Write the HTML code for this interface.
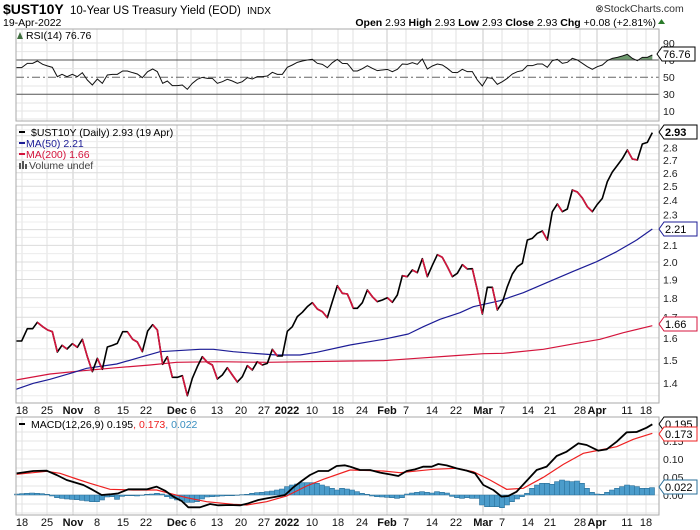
<!DOCTYPE html>
<html><head><meta charset="utf-8">
<style>
html,body{margin:0;padding:0;background:#fff;width:700px;height:530px;overflow:hidden}
svg{display:block}
text{font-family:"Liberation Sans",sans-serif}
.ns{vector-effect:non-scaling-stroke}
</style></head>
<body>
<svg width="700" height="530" xmlns="http://www.w3.org/2000/svg">
<rect width="700" height="530" fill="#fff"/>
<text x="3" y="14" font-size="14" font-weight="bold">$UST10Y</text>
<text x="70" y="14" font-size="11.5">10-Year US Treasury Yield (EOD)</text>
<text x="247" y="14" font-size="10">INDX</text>
<text x="595" y="12" font-size="10.5" fill="#333">⊗StockCharts.com</text>
<text x="3" y="26" font-size="10.5">19-Apr-2022</text>
<text x="656" y="26" font-size="10.5" text-anchor="end"><tspan font-weight="bold">Open</tspan> 2.93 <tspan font-weight="bold">High</tspan> 2.93 <tspan font-weight="bold">Low</tspan> 2.93 <tspan font-weight="bold">Close</tspan> 2.93 <tspan font-weight="bold">Chg</tspan> +0.08 (+2.81%)</text>
<polygon points="658,24 665,24 661.5,19" fill="#2a7a2a"/>

<!-- vertical grids -->
<g fill="none">
<path stroke="#e2e2e2" d="M22 29V121M47 29V121M97 29V121M123 29V121M146 29V121M191 29V121M217 29V121M241 29V121M264 29V121M312 29V121M338 29V121M353 29V121M406 29V121M432 29V121M456 29V121M502 29V121M528 29V121M550 29V121M580 29V121M627 29V121M646 29V121
M22 125V403M47 125V403M97 125V403M123 125V403M146 125V403M191 125V403M217 125V403M241 125V403M264 125V403M312 125V403M338 125V403M353 125V403M406 125V403M432 125V403M456 125V403M502 125V403M528 125V403M550 125V403M580 125V403M627 125V403M646 125V403
M22 417V515M47 417V515M97 417V515M123 417V515M146 417V515M191 417V515M217 417V515M241 417V515M264 417V515M312 417V515M338 417V515M353 417V515M406 417V515M432 417V515M456 417V515M502 417V515M528 417V515M550 417V515M580 417V515M627 417V515M646 417V515"/>
<path stroke="#c8c8c8" d="M73 29V121M177 29V121M287 29V121M387 29V121M483 29V121M597 29V121M73 125V403M177 125V403M287 125V403M387 125V403M483 125V403M597 125V403M73 417V515M177 417V515M287 417V515M387 417V515M483 417V515M597 417V515"/>
<!-- RSI horizontals -->
<path stroke="#e6e6e6" d="M16 43H659M16 111H659M16 51.6H659M16 68.6H659M16 86H659M16 103H659M16 119H659"/>
<!-- main horizontals -->
<path stroke="#ececec" d="M16 395.7H659M16 371.4H659M16 348.7H659M16 327.4H659M16 307.4H659M16 288.5H659M16 270.6H659M16 253.6H659M16 237.4H659M16 222H659M16 207.2H659M16 193H659M16 179.4H659M16 166.4H659M16 153.8H659M16 141.6H659M16 129.9H659"/>
<path stroke="#dcdcdc" d="M16 383.3H659M16 359.8H659M16 337.9H659M16 317.3H659M16 297.8H659M16 279.5H659M16 262H659M16 245.4H659M16 229.6H659M16 214.5H659M16 200H659M16 186.2H659M16 172.8H659M16 160H659M16 147.6H659M16 135.7H659"/>
<!-- MACD horizontals -->
<path stroke="#e4e4e4" d="M16 441H659M16 459H659M16 477H659M16 495H659M16 513H659M16 432H659M16 450H659M16 468H659M16 486H659M16 504H659"/>
</g>

<!-- RSI -->
<g transform="translate(350,25) scale(0.33333)">
<polygon fill="#6e9a6e" points="765,105 787,100 802,97 817,93 832,88 847,100 855,105 870,105 877,97 892,97 907,90 907,105"/>
</g>
<path fill="none" stroke="#555" d="M16 60H659M16 94.3H659"/>
<path fill="none" stroke="#666" stroke-dasharray="8,3,2,3" d="M16 77.3H659"/>
<g transform="translate(0,25) scale(0.33333)" fill="none" stroke="#111">
<polyline class="ns" stroke-width="1" points="48,128 65,128 82,115 98,115 112,108 128,118 143,123 157,127 172,155 186,148 201,155 217,148 232,155 247,143 262,165 277,180 292,162 307,175 322,150 337,148 352,148 368,138 382,138 398,143 412,147 427,158 443,140 458,132 472,140 488,175 502,168 517,182 532,182 547,180 562,193 577,175 592,163 607,157 622,160 637,160 652,175 667,170 682,163 697,168 712,175 727,170 742,158 757,162 772,155 787,155 802,153 817,142 832,148 847,148 862,127 877,120 892,112 907,108 922,105 937,103 952,115 967,118 982,128 997,113 1012,103 1027,115 1042,116 1050,125"/>
</g>
<g transform="translate(350,25) scale(0.33333)" fill="none" stroke="#111">
<polyline class="ns" stroke-width="1" points="0,125 10,138 22,138 37,131 52,122 67,130 82,137 97,135 112,133 127,140 142,133 157,117 172,118 187,113 202,118 217,102 232,132 247,123 262,117 277,120 292,130 307,142 322,143 337,133 352,140 367,140 382,165 397,183 412,158 427,160 442,178 457,170 472,160 487,147 502,140 517,137 532,122 547,122 562,117 577,117 592,127 607,107 622,103 637,115 652,112 667,100 682,105 697,115 712,125 727,133 742,125 757,120 772,107 787,100 802,97 817,93 832,88 847,100 862,107 877,97 892,97 907,90"/>
</g>
<rect x="16" y="29" width="643" height="92" fill="none" stroke="#aaa"/>
<polygon points="17,39 20,32 23,39" fill="#3f6f3f"/>
<text x="26" y="39" font-size="10.5">RSI(14) 76.76</text>
<g font-size="10.5" fill="#222"><text x="663" y="47">90</text><text x="663" y="64">70</text><text x="663" y="81">50</text><text x="663" y="98">30</text><text x="663" y="115">10</text></g>
<polygon points="657,54 662,47 695,47 695,61 662,61" fill="#fff" stroke="#000"/>
<text x="663" y="58" font-size="11">76.76</text>

<!-- MAIN -->
<g transform="translate(0,110) scale(0.33333)" fill="none" stroke-linejoin="round">
<polyline class="ns" stroke="#d4143c" stroke-width="1.2" points="48,810 150,792 250,782 350,773 450,765 530,757 650,755 800,757 1050,753"/>
<polyline class="ns" stroke="#1c1c96" stroke-width="1.2" points="48,838 100,820 150,808 218,788 260,775 350,762 410,745 480,725 530,722 600,718 640,718 700,725 760,730 830,735 900,735 950,727 1050,705"/>
<polyline class="ns" stroke="#000" stroke-width="1.6" points="48,693 65,693 82,656 98,656 112,637 128,650 143,660 157,665 172,726 186,706 201,717 217,701 232,712 247,688 262,740 277,785 292,745 307,778 322,711 337,706 352,700 368,665 382,665 398,688 412,696 427,725 443,663 458,644 472,660 488,763 502,740 517,802 532,802 547,797 562,857 577,805 592,770 607,740 622,757 637,765 652,807 667,795 682,773 697,795 712,816 727,800 742,767 757,780 772,755 787,765 802,760 817,718 832,738 847,738 862,664 877,650 892,620 907,607 922,590 937,578 952,597 967,605 982,623 997,575 1012,527 1027,550 1042,552 1050,570"/>
<g stroke="#d4143c" stroke-width="1.6">
<polyline class="ns" points="112,637 128,650 143,660 157,665 172,726"/>
<polyline class="ns" points="186,706 201,717"/>
<polyline class="ns" points="217,701 232,712"/>
<polyline class="ns" points="247,688 262,740 277,785"/>
<polyline class="ns" points="292,745 307,778"/>
<polyline class="ns" points="382,665 398,688 412,696 427,725"/>
<polyline class="ns" points="458,644 472,660 488,763"/>
<polyline class="ns" points="502,740 517,802"/>
<polyline class="ns" points="547,797 562,857"/>
<polyline class="ns" points="607,740 622,757 637,765 652,807"/>
<polyline class="ns" points="682,773 697,795 712,816"/>
<polyline class="ns" points="742,767 757,780"/>
<polyline class="ns" points="772,755 787,765"/>
<polyline class="ns" points="817,718 832,738"/>
<polyline class="ns" points="937,578 952,597 967,605 982,623"/>
<polyline class="ns" points="1012,527 1027,550 1042,552 1050,570 1060,595"/>
</g>
</g>
<g transform="translate(350,110) scale(0.33333)" fill="none" stroke-linejoin="round">
<polyline class="ns" stroke="#d4143c" stroke-width="1.2" points="0,753 100,752 200,745 300,738 400,731 460,730 580,718 680,700 750,688 820,668 907,647"/>
<polyline class="ns" stroke="#1c1c96" stroke-width="1.2" points="0,705 100,688 175,672 220,650 270,628 330,608 370,590 450,572 520,548 590,518 670,484 740,455 800,425 860,390 907,357"/>
<polyline class="ns" stroke="#000" stroke-width="1.6" points="0,570 10,595 22,595 37,578 52,540 67,560 82,575 97,570 112,563 127,577 142,555 157,497 172,500 187,480 202,488 217,446 232,500 247,466 262,434 277,442 292,470 307,500 322,490 337,464 352,477 367,476 382,540 397,612 412,532 427,532 442,600 457,577 472,530 487,492 502,470 517,460 532,390 547,385 562,370 577,363 592,390 607,305 622,282 637,305 652,297 667,240 682,246 697,264 712,290 727,305 742,283 757,265 772,215 787,186 802,166 817,146 832,120 847,147 862,150 877,102 892,97 907,68"/>
<g stroke="#d4143c" stroke-width="1.6">
<polyline class="ns" points="0,570 10,595"/>
<polyline class="ns" points="52,540 67,560 82,575"/>
<polyline class="ns" points="112,563 127,577"/>
<polyline class="ns" points="157,497 172,500"/>
<polyline class="ns" points="187,480 202,488"/>
<polyline class="ns" points="217,446 232,500"/>
<polyline class="ns" points="262,434 277,442 292,470 307,500"/>
<polyline class="ns" points="337,464 352,477"/>
<polyline class="ns" points="367,476 382,540 397,612"/>
<polyline class="ns" points="427,532 442,600"/>
<polyline class="ns" points="577,363 592,390"/>
<polyline class="ns" points="622,282 637,305"/>
<polyline class="ns" points="667,240 682,246 697,264 712,290 727,305"/>
<polyline class="ns" points="832,120 847,147 862,150"/>
</g>
</g>
<rect x="16" y="125" width="643" height="278" fill="none" stroke="#aaa"/>
<path d="M19 132H25" stroke="#000" stroke-width="2"/>
<text x="31" y="136" font-size="10.5">$UST10Y (Daily) 2.93 (19 Apr)</text>
<path d="M19 143H25" stroke="#1c1c96" stroke-width="2"/>
<text x="26" y="147" font-size="10.5" fill="#1c1c96">MA(50) 2.21</text>
<path d="M19 154H25" stroke="#d4143c" stroke-width="2"/>
<text x="26" y="158" font-size="10.5" fill="#d4143c">MA(200) 1.66</text>
<rect x="19" y="163" width="2" height="6" fill="#555"/><rect x="22" y="161" width="2" height="8" fill="#555"/><rect x="25" y="164" width="2" height="5" fill="#555"/>
<text x="29" y="169" font-size="10.5" fill="#444">Volume undef</text>
<g font-size="10.5" fill="#222">
<text x="663" y="387">1.4</text><text x="663" y="364">1.5</text><text x="663" y="342">1.6</text><text x="663" y="321">1.7</text><text x="663" y="302">1.8</text><text x="663" y="283.5">1.9</text><text x="663" y="266">2.0</text><text x="663" y="249">2.1</text><text x="663" y="218.5">2.3</text><text x="663" y="204">2.4</text><text x="663" y="190">2.5</text><text x="663" y="177">2.6</text><text x="663" y="164">2.7</text><text x="663" y="151.6">2.8</text>
</g>
<polygon points="659,132 664,125 697,125 697,139 664,139" fill="#fff" stroke="#000"/>
<text x="665" y="136" font-size="11" font-weight="bold">2.93</text>
<polygon points="659,229 664,222 697,222 697,236 664,236" fill="#fff" stroke="#1c1c96"/>
<text x="665" y="233" font-size="11">2.21</text>
<polygon points="659,324 664,317 697,317 697,331 664,331" fill="#fff" stroke="#d4143c"/>
<text x="665" y="328" font-size="11">1.66</text>

<!-- x labels -->
<g font-size="11" fill="#111" text-anchor="middle">
<text x="22" y="414">18</text><text x="47" y="414">25</text><text x="73" y="414" font-weight="bold">Nov</text><text x="97" y="414">8</text><text x="123" y="414">15</text><text x="146" y="414">22</text><text x="177" y="414" font-weight="bold">Dec</text><text x="193" y="414">6</text><text x="217" y="414">13</text><text x="241" y="414">20</text><text x="264" y="414">27</text><text x="287" y="414" font-weight="bold">2022</text><text x="312" y="414">10</text><text x="338" y="414">18</text><text x="362" y="414">24</text><text x="387" y="414" font-weight="bold">Feb</text><text x="406" y="414">7</text><text x="432" y="414">14</text><text x="456" y="414">22</text><text x="483" y="414" font-weight="bold">Mar</text><text x="502" y="414">7</text><text x="528" y="414">14</text><text x="550" y="414">21</text><text x="580" y="414">28</text><text x="597" y="414" font-weight="bold">Apr</text><text x="627" y="414">11</text><text x="646" y="414">18</text>
</g>
<g font-size="11" fill="#111" text-anchor="middle">
<text x="22" y="526">18</text><text x="47" y="526">25</text><text x="73" y="526" font-weight="bold">Nov</text><text x="97" y="526">8</text><text x="123" y="526">15</text><text x="146" y="526">22</text><text x="177" y="526" font-weight="bold">Dec</text><text x="193" y="526">6</text><text x="217" y="526">13</text><text x="241" y="526">20</text><text x="264" y="526">27</text><text x="287" y="526" font-weight="bold">2022</text><text x="312" y="526">10</text><text x="338" y="526">18</text><text x="362" y="526">24</text><text x="387" y="526" font-weight="bold">Feb</text><text x="406" y="526">7</text><text x="432" y="526">14</text><text x="456" y="526">22</text><text x="483" y="526" font-weight="bold">Mar</text><text x="502" y="526">7</text><text x="528" y="526">14</text><text x="550" y="526">21</text><text x="580" y="526">28</text><text x="597" y="526" font-weight="bold">Apr</text><text x="627" y="526">11</text><text x="646" y="526">18</text>
</g>

<!-- MACD -->
<g transform="translate(0,400) scale(0.33333)">
<path class="ns" fill="#4b9ccb" stroke="#2a6f98" stroke-width="0.6" d="M43.5 285V282h15V285ZM58.5 285V281h15V285ZM73.5 285V280h15V285ZM88.5 285V279h15V285ZM103.5 285V280h15V285ZM118.5 285V281h15V285ZM133.5 285V283h15V285ZM148.5 285V288h15V285ZM163.5 285V293h15V285ZM178.5 285V295h15V285ZM193.5 285V297h15V285ZM208.5 285V298h15V285ZM223.5 285V299h15V285ZM238.5 285V301h15V285ZM253.5 285V303h15V285ZM268.5 285V305h15V285ZM283.5 285V305h15V285ZM298.5 285V300h15V285ZM313.5 285V291h15V285ZM328.5 285V290h15V285ZM343.5 285V298h15V285ZM358.5 285V289h15V285ZM373.5 285V287h15V285ZM388.5 285V287h15V285ZM403.5 285V288h15V285ZM418.5 285V286h15V285ZM433.5 285V283h15V285ZM448.5 285V282h15V285ZM463.5 285V280h15V285ZM478.5 285V282h15V285ZM493.5 285V290h15V285ZM508.5 285V295h15V285ZM523.5 285V300h15V285ZM538.5 285V303h15V285ZM553.5 285V307h15V285ZM568.5 285V307h15V285ZM583.5 285V305h15V285ZM598.5 285V297h15V285ZM613.5 285V291h15V285ZM628.5 285V290h15V285ZM643.5 285V289h15V285ZM658.5 285V288h15V285ZM673.5 285V287h15V285ZM688.5 285V287h15V285ZM703.5 285V286h15V285ZM718.5 285V284h15V285ZM733.5 285V283h15V285ZM748.5 285V280h15V285ZM763.5 285V278h15V285ZM778.5 285V277h15V285ZM793.5 285V275h15V285ZM808.5 285V273h15V285ZM823.5 285V270h15V285ZM838.5 285V267h15V285ZM853.5 285V260h15V285ZM868.5 285V255h15V285ZM883.5 285V252h15V285ZM898.5 285V248h15V285ZM913.5 285V248h15V285ZM928.5 285V248h15V285ZM943.5 285V250h15V285ZM958.5 285V255h15V285ZM973.5 285V260h15V285ZM988.5 285V265h15V285ZM1003.5 285V270h15V285ZM1018.5 285V265h15V285ZM1033.5 285V267h15V285Z"/>
<polyline class="ns" fill="none" stroke="#ee2020" stroke-width="1.2" points="50,223 140,214 180,220 230,237 270,250 330,268 400,270 470,270 520,283 560,293 620,305 700,313 740,315 800,305 860,288 920,258 970,238 1050,210"/>
<polyline class="ns" fill="none" stroke="#000" stroke-width="1.8" stroke-linejoin="round" points="50,220 100,213 140,212 170,225 200,240 250,255 275,268 305,285 330,283 355,280 385,268 410,268 440,268 470,260 495,272 520,290 545,303 565,322 600,322 630,312 655,316 690,315 720,316 745,310 775,300 800,295 830,290 855,285 880,262 905,243 930,225 955,213 985,213 1010,198 1035,196 1050,200"/>
</g>
<g transform="translate(350,400) scale(0.33333)">
<path class="ns" fill="#4b9ccb" stroke="#2a6f98" stroke-width="0.6" d="M-1.5 285V270h15V285ZM13.5 285V275h15V285ZM28.5 285V280h15V285ZM43.5 285V283h15V285ZM58.5 285V288h15V285ZM73.5 285V290h15V285ZM88.5 285V291h15V285ZM103.5 285V292h15V285ZM118.5 285V293h15V285ZM133.5 285V295h15V285ZM148.5 285V293h15V285ZM163.5 285V282h15V285ZM178.5 285V279h15V285ZM193.5 285V277h15V285ZM208.5 285V275h15V285ZM223.5 285V277h15V285ZM238.5 285V279h15V285ZM253.5 285V275h15V285ZM268.5 285V277h15V285ZM283.5 285V279h15V285ZM298.5 285V289h15V285ZM313.5 285V293h15V285ZM328.5 285V295h15V285ZM343.5 285V293h15V285ZM358.5 285V295h15V285ZM373.5 285V295h15V285ZM388.5 285V315h15V285ZM403.5 285V320h15V285ZM418.5 285V320h15V285ZM433.5 285V320h15V285ZM448.5 285V323h15V285ZM463.5 285V315h15V285ZM478.5 285V305h15V285ZM493.5 285V297h15V285ZM508.5 285V290h15V285ZM523.5 285V280h15V285ZM538.5 285V265h15V285ZM553.5 285V255h15V285ZM568.5 285V250h15V285ZM583.5 285V250h15V285ZM598.5 285V253h15V285ZM613.5 285V245h15V285ZM628.5 285V240h15V285ZM643.5 285V243h15V285ZM658.5 285V245h15V285ZM673.5 285V243h15V285ZM688.5 285V250h15V285ZM703.5 285V265h15V285ZM718.5 285V277h15V285ZM733.5 285V282h15V285ZM748.5 285V283h15V285ZM763.5 285V277h15V285ZM778.5 285V270h15V285ZM793.5 285V265h15V285ZM808.5 285V260h15V285ZM823.5 285V255h15V285ZM838.5 285V257h15V285ZM853.5 285V260h15V285ZM868.5 285V265h15V285ZM883.5 285V265h15V285ZM898.5 285V263h15V285Z"/>
<polyline class="ns" fill="none" stroke="#ee2020" stroke-width="1.2" points="0,210 100,213 150,218 250,208 320,205 370,215 420,240 470,268 520,265 580,232 640,193 700,160 750,150 800,140 850,118 907,100"/>
<polyline class="ns" fill="none" stroke="#000" stroke-width="1.8" stroke-linejoin="round" points="0,200 30,210 60,210 90,218 120,223 145,228 170,213 195,208 220,200 245,200 265,192 290,196 320,205 350,212 375,220 400,255 430,270 455,290 475,288 500,275 525,248 560,210 590,200 620,168 650,155 685,130 710,135 745,152 770,148 800,125 830,97 860,96 890,83 907,73"/>
</g>
<rect x="16" y="417" width="643" height="98" fill="none" stroke="#aaa"/>
<path d="M19 424H25" stroke="#000" stroke-width="2"/>
<text x="31" y="428" font-size="10.5">MACD(12,26,9) 0.195<tspan fill="#ee2020">, 0.173</tspan><tspan fill="#3a8fc0">, 0.022</tspan></text>
<g font-size="10.5" fill="#222"><text x="663" y="445">0.15</text><text x="663" y="463">0.10</text><text x="663" y="481">0.05</text><text x="663" y="499">0.00</text></g>
<polygon points="659,424 664,417 697,417 697,431 664,431" fill="#fff" stroke="#000"/>
<text x="665" y="428" font-size="11">0.195</text>
<polygon points="659,434 664,427 697,427 697,441 664,441" fill="#fff" stroke="#ee2020"/>
<text x="665" y="438" font-size="11">0.173</text>
<polygon points="659,487 664,480 697,480 697,494 664,494" fill="#fff" stroke="#2a6f98"/>
<text x="665" y="491" font-size="11">0.022</text>
</svg>
</body></html>
